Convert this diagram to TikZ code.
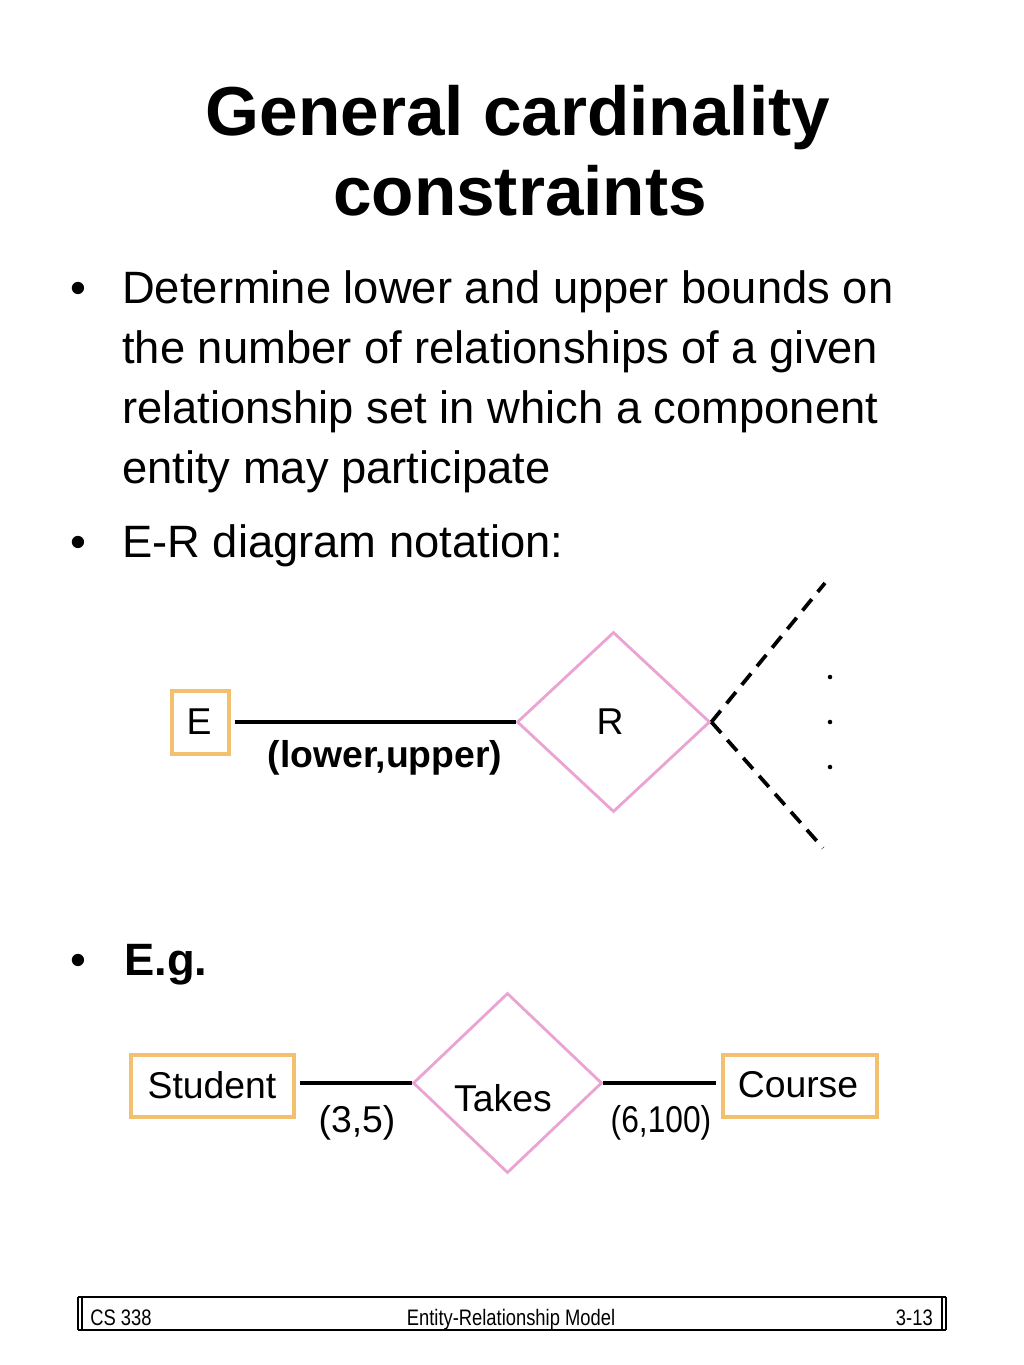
\documentclass[tikz,border=0pt]{standalone}
\usepackage{fontspec}
\setmainfont{Liberation Sans}
\newfontfamily\narrowfont{Liberation Sans}[FakeStretch=0.82]
\newfontfamily\numnarrow{Liberation Sans}[FakeStretch=0.85]
\usetikzlibrary{shapes.geometric}
\definecolor{entorange}{HTML}{F2C06E}
\definecolor{relpink}{HTML}{EBA3D3}
\tikzset{
  titletext/.style={anchor=base,inner sep=0pt,font=\fontsize{52}{60}\selectfont\bfseries},
  bodytext/.style={anchor=base west,inner sep=0pt,font=\fontsize{34}{45}\selectfont},
  bullettext/.style={anchor=base,inner sep=0pt,font=\fontsize{34}{45}\selectfont},
  entity/.style={draw=entorange,line width=2.3pt,rectangle,inner sep=0pt},
  relation/.style={draw=relpink,line width=2.1pt,diamond,inner sep=0pt},
  lbl/.style={inner sep=0pt,font=\fontsize{28}{32}\selectfont},
  conn/.style={line width=2.3pt,black},
  dashconn/.style={line width=2.8pt,black,dash pattern=on 11pt off 7pt},
  foottext/.style={inner sep=0pt,font=\fontsize{16.8}{18}\selectfont\narrowfont},
}
\begin{document}
\begin{tikzpicture}[x=0.75pt,y=-0.75pt]
\useasboundingbox[fill=white] (0,0) rectangle (1024,1365);
% title
\node[titletext] (t1) at (518,135) {General cardinality};
\node[titletext] (t2) at (520,215) {constraints};
% bullets
\node[bullettext] (b1) at (78,303) {•};
\node[bodytext] (l1) at (122,303) {Determine lower and upper bounds on};
\node[bodytext] (l2) at (122,363) {the number of relationships of a given};
\node[bodytext] (l3) at (122,423) {relationship set in which a component};
\node[bodytext] (l4) at (122,483) {entity may participate};
\node[bullettext] (b2) at (78,557) {•};
\node[bodytext] (l5) at (122,557) {E-R diagram notation:};
\node[bullettext] (b3) at (78,975) {•};
\node[bodytext,font=\fontsize{34}{45}\selectfont\bfseries] (l6) at (124,975) {E.g.};
% notation diagram
\node[entity,minimum width=57pt*0.75,minimum height=63pt*0.75] (E) at (200.5,722.5) {};
\node[lbl] (Et) at (199,722) {E};
\node[relation,minimum width=193pt*0.75,minimum height=180pt*0.75] (R) at (613.5,722) {};
\node[lbl] (Rt) at (610,722) {R};
\draw[conn,shorten <=3pt] (E.east |- R.west) -- (R.west);
\node[lbl,font=\fontsize{28}{32}\selectfont\bfseries] (lu) at (385,758) {(lower,upper)};
\coordinate (d1) at (825,583);
\coordinate (d2) at (823,848);
\draw[dashconn] (R.east) -- (d1);
\draw[dashconn] (R.east) -- (d2);
\fill (830,677) circle (1.7pt);
\fill (830,722) circle (1.7pt);
\fill (830,767) circle (1.7pt);
% example diagram
\node[entity,minimum width=163pt*0.75,minimum height=62pt*0.75] (S) at (212.5,1086) {};
\node[lbl] (St) at (212,1085) {Student};
\node[relation,minimum width=189pt*0.75,minimum height=180pt*0.75] (T) at (507.5,1083) {};
\node[lbl] (Tt) at (503,1098) {Takes};
\node[entity,minimum width=154pt*0.75,minimum height=62pt*0.75] (C) at (800,1086) {};
\node[lbl] (Ct) at (798,1085) {Course};
\draw[conn,shorten <=3pt] (T.west -| S.east) -- (T.west);
\draw[conn,shorten >=4pt] (T.east) -- (T.east -| C.west);
\node[lbl] (c35) at (357,1123) {(3,5)};
\node[lbl,font=\fontsize{28}{32}\selectfont\numnarrow] (c6) at (661,1123) {(6,100)};
% footer
\draw[line width=1.2pt] (78,1297) -- (946,1297);
\draw[line width=2pt] (78,1330) -- (946,1330);
\draw[line width=1.2pt] (78,1297) -- (78,1330);
\draw[line width=1.2pt] (82,1297) -- (82,1330);
\draw[line width=1.2pt] (942,1297) -- (942,1330);
\draw[line width=1.2pt] (946,1297) -- (946,1330);
\node[foottext,anchor=base west] (f1) at (90,1325) {CS 338};
\node[foottext,anchor=base] (f2) at (511,1325) {Entity-Relationship Model};
\node[foottext,anchor=base east] (f3) at (933,1325) {3-13};
\end{tikzpicture}
\end{document}
